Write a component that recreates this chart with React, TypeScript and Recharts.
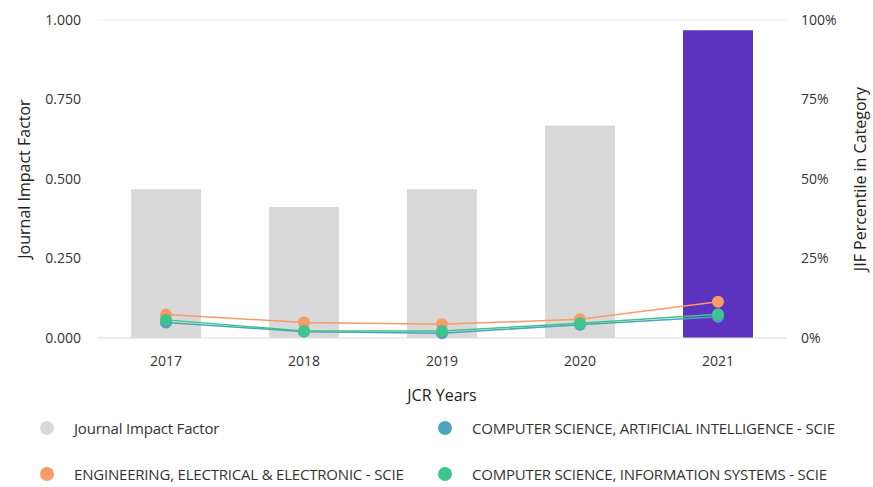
import { ComposedChart, Bar, Line, XAxis, YAxis, CartesianGrid, Cell } from "recharts";

const years = ["2017", "2018", "2019", "2020", "2021"];
const jif = [0.468, 0.412, 0.468, 0.668, 0.968];
const elecEng = [7.4, 4.9, 4.3, 5.9, 11.4];
const csAi = [4.9, 2.0, 1.5, 4.2, 6.7];
const csInfo = [5.7, 2.2, 2.2, 4.6, 7.5];
const jifTicks = [0, 0.25, 0.5, 0.75, 1];
const pctTicks = [0, 25, 50, 75, 100];

const legendItems = [
  { name: "Journal Impact Factor", color: "#d9d9d9" },
  { name: "COMPUTER SCIENCE, ARTIFICIAL INTELLIGENCE - SCIE", color: "#4ea3bd" },
  { name: "ENGINEERING, ELECTRICAL & ELECTRONIC - SCIE", color: "#f79b69" },
  { name: "COMPUTER SCIENCE, INFORMATION SYSTEMS - SCIE", color: "#3ec48c" },
];

const data = years.map((year, i) => ({
  year,
  jif: jif[i],
  elecEng: elecEng[i],
  csAi: csAi[i],
  csInfo: csInfo[i],
}));

const tickStyle = { fontSize: 14, fill: "#333", fontFamily: "'Open Sans', sans-serif" };
const labelFont = "'Open Sans', sans-serif";

export default function App() {
  return (
    <div style={{ width: 873, height: 487, background: "#fff", fontFamily: "'Open Sans', sans-serif" }}>
      <style>{`body{margin:0}`}</style>
      <ComposedChart width={873} height={410} data={data} margin={{ top: 20, right: 0, left: 10, bottom: 0 }}>
        <CartesianGrid vertical={false} stroke="#ebebeb" />
        <XAxis
          dataKey="year"
          tick={tickStyle}
          tickLine={false}
          axisLine={{ stroke: "#e3e3e3" }}
          tickMargin={12}
          height={72}
          label={{ value: "JCR Years", position: "insideBottom", offset: 9, fontSize: 16, fill: "#222", fontFamily: labelFont }}
        />
        <YAxis
          yAxisId="left"
          domain={[0, 1]}
          ticks={jifTicks}
          tickFormatter={(v: number) => v.toFixed(3)}
          tick={tickStyle}
          tickLine={false}
          axisLine={false}
          width={87}
          tickMargin={10}
          label={{ value: "Journal Impact Factor", angle: -90, position: "insideLeft", offset: 14, fontSize: 16, fill: "#222", fontFamily: labelFont, style: { textAnchor: "middle" } }}
        />
        <YAxis
          yAxisId="right"
          orientation="right"
          domain={[0, 100]}
          ticks={pctTicks}
          tickFormatter={(v: number) => `${v}%`}
          tick={tickStyle}
          tickLine={false}
          axisLine={false}
          width={86}
          tickMargin={8}
          label={{ value: "JIF Percentile in Category", angle: -90, position: "insideRight", offset: 13, fontSize: 16, fill: "#222", fontFamily: labelFont, style: { textAnchor: "middle" } }}
        />
        <Bar yAxisId="left" dataKey="jif" barSize={70} isAnimationActive={false}>
          {data.map((d, i) => (
            <Cell key={d.year} fill={i === data.length - 1 ? "#5c33bf" : "#d9d9d9"} />
          ))}
        </Bar>
        <Line yAxisId="right" dataKey="elecEng" stroke="#f79b69" strokeWidth={1.5} dot={{ r: 6, fill: "#f79b69", stroke: "none" }} isAnimationActive={false} />
        <Line yAxisId="right" dataKey="csAi" stroke="#4ea3bd" strokeWidth={1.5} dot={{ r: 6, fill: "#4ea3bd", stroke: "none" }} isAnimationActive={false} />
        <Line yAxisId="right" dataKey="csInfo" stroke="#3ec48c" strokeWidth={1.5} dot={{ r: 6, fill: "#3ec48c", stroke: "none" }} isAnimationActive={false} />
      </ComposedChart>
      <div style={{ display: "grid", gridTemplateColumns: "398px 1fr", rowGap: 26, paddingLeft: 40, paddingTop: 8, fontSize: 15, color: "#333", letterSpacing: -0.2 }}>
        {legendItems.map((item) => (
          <div key={item.name} style={{ display: "flex", alignItems: "center", height: 20 }}>
            <span style={{ display: "inline-block", width: 14, height: 14, borderRadius: 7, background: item.color, marginRight: 20 }} />
            <span>{item.name}</span>
          </div>
        ))}
      </div>
    </div>
  );
}
